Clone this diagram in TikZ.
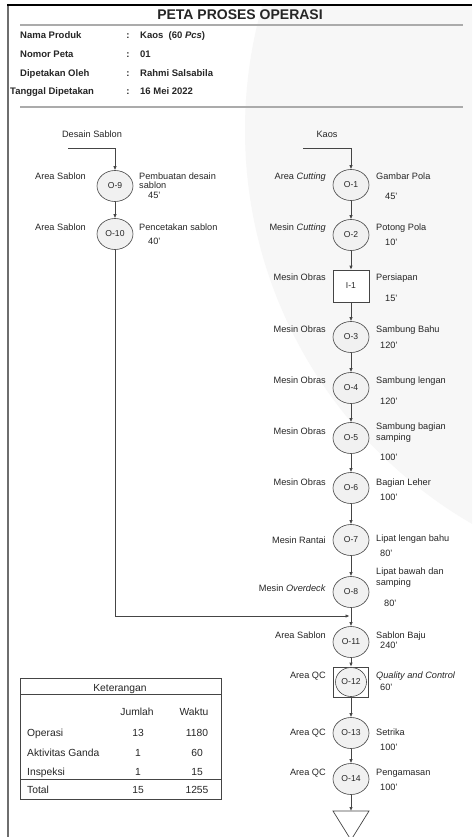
\documentclass[tikz,border=0pt]{standalone}
\usepackage{fontspec}
\setmainfont{Liberation Sans}
\usetikzlibrary{shapes.geometric,arrows.meta}

\definecolor{ink}{HTML}{262626}
\definecolor{linegray}{HTML}{454545}
\definecolor{rulegray}{HTML}{ABABAB}
\definecolor{framegray}{HTML}{6E6E6E}
\definecolor{nodefill}{HTML}{F1F1F1}
\definecolor{pagetint}{HTML}{F7F7F7}

\begin{document}
\begin{tikzpicture}[x=1pt,y=-1pt,
  txt/.style={inner sep=0pt, font=\fontsize{9.2}{11}\selectfont, text=ink},
  lft/.style={txt, anchor=base east},
  rgt/.style={txt, anchor=base west},
  mid/.style={txt, anchor=base},
  hdr/.style={inner sep=0pt, anchor=base west, font=\fontsize{9.5}{11}\selectfont\bfseries, text=ink},
  tbl/.style={inner sep=0pt, anchor=base, font=\fontsize{10.3}{12}\selectfont, text=ink},
  opnode/.style={ellipse, draw=linegray, fill=nodefill, line width=0.6pt,
    minimum width=36pt, minimum height=31pt, inner sep=0pt,
    font=\fontsize{8.6}{10}\selectfont, text=ink},
  inspbox/.style={rectangle, draw=linegray, fill=white, line width=0.6pt,
    minimum width=36pt, minimum height=32pt, inner sep=0pt,
    font=\fontsize{8.6}{10}\selectfont, text=ink},
  flow/.style={draw=linegray, line width=0.7pt, -{Latex[length=4pt,width=3.4pt]}},
]
\useasboundingbox (0,0) rectangle (472,837);
\fill[white] (0,0) rectangle (472,837);

% faint page tint on the right
\begin{scope}
  \clip (9,6) rectangle (472,837);
  \fill[pagetint] (700,130) circle[radius=455];
\end{scope}

% frame
\draw[framegray, line width=2.4pt] (8,4) -- (8,837);
\draw[black, line width=1.2pt] (7,5) -- (472,5);

% title and header
\node[inner sep=0pt, anchor=base, font=\fontsize{14}{16}\selectfont\bfseries, text=ink] (title) at (240,20) {PETA PROSES OPERASI};
\draw[rulegray, line width=1.5pt] (20,25) -- (463,25);

\node[hdr] (hn1) at (20,38.5) {Nama Produk};
\node[hdr, anchor=base] (hc1) at (128,38.5) {:};
\node[hdr] (hv1) at (140,38.5) {Kaos\ \ (60 \textit{Pcs})};
\node[hdr] (hn2) at (20,57.5) {Nomor Peta};
\node[hdr, anchor=base] (hc2) at (128,57.5) {:};
\node[hdr] (hv2) at (140,57.5) {01};
\node[hdr] (hn3) at (20,76.5) {Dipetakan Oleh};
\node[hdr, anchor=base] (hc3) at (128,76.5) {:};
\node[hdr] (hv3) at (140,76.5) {Rahmi Salsabila};
\node[hdr] (hn4) at (10,94.5) {Tanggal Dipetakan};
\node[hdr, anchor=base] (hc4) at (128,94.5) {:};
\node[hdr] (hv4) at (140,94.5) {16 Mei 2022};
\draw[rulegray, line width=1.5pt] (20,107) -- (463,107);

% ---- left column: screen design ----
\node[mid] (inA) at (92,138) {Desain Sablon};
\coordinate (inAstart) at (68,148);
\node[opnode] (O9) at (115,186) {O-9};
\node[opnode] (O10) at (115,234) {O-10};

\node[lft] (lO9) at (86,179) {Area Sablon};
\node[rgt] (rO9a) at (139,179) {Pembuatan desain};
\node[rgt] (rO9b) at (139,188.5) {sablon};
\node[rgt] (tO9) at (148,198) {45'};
\node[lft] (lO10) at (86,230) {Area Sablon};
\node[rgt] (rO10) at (139,230) {Pencetakan sablon};
\node[rgt] (tO10) at (148,244) {40'};

% ---- right column: t-shirt ----
\node[mid] (inB) at (327,138) {Kaos};
\coordinate (inBstart) at (303,148);
\node[opnode] (O1) at (351,185) {O-1};
\node[opnode] (O2) at (351,235) {O-2};
\node[inspbox] (I1) at (351,286) {I-1};
\node[opnode] (O3) at (351,337) {O-3};
\node[opnode] (O4) at (351,388) {O-4};
\node[opnode] (O5) at (351,438) {O-5};
\node[opnode] (O6) at (351,488) {O-6};
\node[opnode] (O7) at (351,540) {O-7};
\node[opnode] (O8) at (351,592) {O-8};
\node[opnode] (O11) at (351,642) {O-11};
\node[inspbox, minimum width=35pt, minimum height=30pt] (Q12) at (351,682) {};
\node[opnode, minimum width=31pt, minimum height=29pt] (O12) at (351,682) {O-12};
\node[opnode] (O13) at (351,733) {O-13};
\node[opnode] (O14) at (351,779) {O-14};
\coordinate (store) at (351,811);
\draw[linegray, line width=0.7pt, fill=white] (333,811) -- (369,811) -- (351,840) -- cycle;

% work stations
\node[lft] (lO1) at (326,179) {Area \textit{Cutting}};
\node[lft] (lO2) at (326,230) {Mesin \textit{Cutting}};
\node[lft] (lI1) at (326,280) {Mesin Obras};
\node[lft] (lO3) at (326,332) {Mesin Obras};
\node[lft] (lO4) at (326,383) {Mesin Obras};
\node[lft] (lO5) at (326,434) {Mesin Obras};
\node[lft] (lO6) at (326,485) {Mesin Obras};
\node[lft] (lO7) at (326,543) {Mesin Rantai};
\node[lft] (lO8) at (326,591) {Mesin \textit{Overdeck}};
\node[lft] (lO11) at (326,638) {Area Sablon};
\node[lft] (lO12) at (326,678) {Area QC};
\node[lft] (lO13) at (326,735) {Area QC};
\node[lft] (lO14) at (326,775) {Area QC};

% activities and times
\node[rgt] (rO1) at (376,179) {Gambar Pola};
\node[rgt] (tO1) at (385,199) {45'};
\node[rgt] (rO2) at (376,230) {Potong Pola};
\node[rgt] (tO2) at (385,245) {10'};
\node[rgt] (rI1) at (376,280) {Persiapan};
\node[rgt] (tI1) at (385,301) {15'};
\node[rgt] (rO3) at (376,332) {Sambung Bahu};
\node[rgt] (tO3) at (380,348) {120'};
\node[rgt] (rO4) at (376,383) {Sambung lengan};
\node[rgt] (tO4) at (380,404) {120'};
\node[rgt] (rO5a) at (376,429.5) {Sambung bagian};
\node[rgt] (rO5b) at (376,440) {samping};
\node[rgt] (tO5) at (380,460) {100'};
\node[rgt] (rO6) at (376,485) {Bagian Leher};
\node[rgt] (tO6) at (380,500) {100'};
\node[rgt] (rO7) at (376,541) {Lipat lengan bahu};
\node[rgt] (tO7) at (380,556) {80'};
\node[rgt] (rO8a) at (376,574) {Lipat bawah dan};
\node[rgt] (rO8b) at (376,585) {samping};
\node[rgt] (tO8) at (384,606) {80'};
\node[rgt] (rO11) at (376,638) {Sablon Baju};
\node[rgt] (tO11) at (380,648) {240'};
\node[rgt] (rO12) at (376,678) {\textit{Quality and Control}};
\node[rgt] (tO12) at (380,690) {60'};
\node[rgt] (rO13) at (376,735) {Setrika};
\node[rgt] (tO13) at (380,750) {100'};
\node[rgt] (rO14) at (376,775) {Pengamasan};
\node[rgt] (tO14) at (380,790) {100'};

% connectors
\draw[flow] (inAstart) -| (O9.north);
\draw[flow] (O9) -- (O10);
\coordinate (merge) at (349.5,616);
\draw[flow] (O10.south) |- (merge);

\draw[flow] (inBstart) -| (O1.north);
\draw[flow] (O1) -- (O2);
\draw[flow] (O2) -- (I1);
\draw[flow] (I1) -- (O3);
\draw[flow] (O3) -- (O4);
\draw[flow] (O4) -- (O5);
\draw[flow] (O5) -- (O6);
\draw[flow] (O6) -- (O7);
\draw[flow] (O7) -- (O8);
\draw[flow] (O8) -- (O11);
\draw[flow] (O11) -- (Q12);
\draw[flow] (Q12) -- (O13);
\draw[flow] (O13) -- (O14);
\draw[flow] (O14) -- (store);

% summary table
\draw[linegray, line width=0.8pt, fill=white] (20,678) rectangle (221,799);
\draw[linegray, line width=0.6pt] (20,694) -- (221,694);
\draw[linegray, line width=0.8pt] (20,779) -- (221,779);
\node[tbl] (kt) at (120,691) {Keterangan};
\node[tbl] (kj) at (137,715) {Jumlah};
\node[tbl] (kw) at (194,715) {Waktu};
\node[tbl, anchor=base west] (r1) at (27,736) {Operasi};
\node[tbl] (r1j) at (138,736) {13};
\node[tbl] (r1w) at (197,736) {1180};
\node[tbl, anchor=base west] (r2) at (27,756) {Aktivitas Ganda};
\node[tbl] (r2j) at (138,756) {1};
\node[tbl] (r2w) at (197,756) {60};
\node[tbl, anchor=base west] (r3) at (27,775.5) {Inspeksi};
\node[tbl] (r3j) at (138,775.5) {1};
\node[tbl] (r3w) at (197,775.5) {15};
\node[tbl, anchor=base west] (r4) at (27,793) {Total};
\node[tbl] (r4j) at (138,793) {15};
\node[tbl] (r4w) at (197,793) {1255};
\end{tikzpicture}
\end{document}
